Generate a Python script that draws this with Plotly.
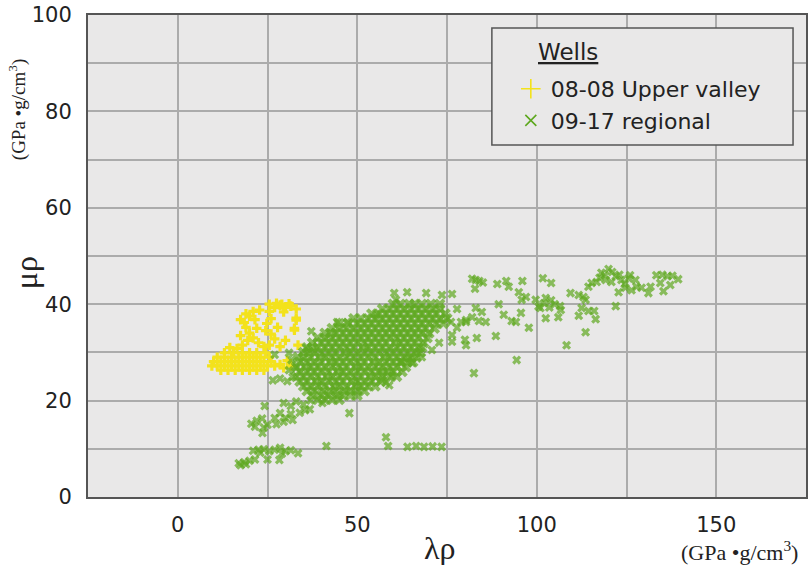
import plotly.graph_objects as go

# ---------------- data ----------------
# Well 08-08 Upper valley  (lambda-rho, mu-rho)
uv_band_y = [26.3, 27.2, 28.1, 29.0, 29.9]
uv_band_x = [
    [12, 14, 16, 18, 20, 22, 24],
    [9.5, 11, 13, 15, 17, 19, 21, 23, 25, 27],
    [10, 12, 14, 16, 18, 20, 22, 24, 26],
    [11, 13, 15, 17, 19, 21, 23, 25.5],
    [13, 15.5, 18, 20, 22, 24.5],
]
uv_x = [28.5, 30.5, 29.5, 31.5,
        14.5, 16.5, 18, 19.5, 21, 22.5, 24, 20, 22, 17.5, 25.5, 27, 28.5, 30, 26, 33.5,
        18.5, 20, 21.5, 22.8, 24.8, 26, 27.8, 25.5, 27, 28.5, 30, 31.5, 33, 29.5, 33, 32.5,
        24.5, 19, 17.5, 19, 21, 25.5, 27.5, 29, 31, 33, 32.5]
uv_y = [27.5, 28.3, 26.8, 27.2,
        31, 30.8, 31.5, 32.5, 33, 32, 31.2, 34, 35, 33.5, 31.5, 32.8, 31.2, 32.5, 33.8, 31.5,
        36.2, 37.5, 36.8, 38.8, 36, 37, 35.2, 38.5, 39.3, 39.8, 39.3, 39.6, 39, 38.4, 37.1, 35,
        34.5, 35.2, 36.8, 38, 38.5, 40, 40.2, 40, 40.1, 36.7, 34.6]

# Well 09-17 regional: dense core rows
core_y = [20.2, 21.1, 22.0, 23.0, 24.0, 25.0, 26.0, 27.0, 28.0, 29.0, 30.0,
          31.0, 32.0, 33.0, 34.0, 35.0, 36.0, 37.0, 38.0, 39.0, 40.0]
core_x = [
    [39, 41, 43, 45],
    [37.5, 40, 42, 44.5, 46, 48, 50],
    [36, 38, 40.5, 42.5, 44, 46.5, 48, 50, 52],
    [35, 37, 39, 41, 43.5, 45, 47, 49.5, 51, 53, 55],
    [34, 36, 38.5, 40, 42, 44, 46, 48.5, 50, 52, 54, 56.5],
    [33, 35, 37, 39, 41.5, 43, 45, 47, 49, 51, 53.5, 55, 57, 59, 61],
    [34, 36, 38, 40, 42, 44.5, 46, 48, 50, 52, 54, 56, 58.5, 60, 62.5],
    [33, 35.5, 37, 39, 41, 43, 45, 47, 49.5, 51, 53, 55, 57, 59, 61, 63.5],
    [34, 36, 38, 40, 42.5, 44, 46, 48, 50, 52, 54.5, 56, 58, 60, 62, 64, 65.5],
    [33.5, 35, 37, 39.5, 41, 43, 45, 47, 49, 51, 53, 55, 57.5, 59, 61, 63, 65, 66.5],
    [35, 36.5, 38, 40, 42, 44, 46.5, 48, 50, 52, 54, 56, 58, 60, 62, 64, 66, 67.5],
    [36, 37.5, 39, 41, 43, 45, 47, 49, 51.5, 53, 55, 57, 59, 61, 63, 65, 67, 68],
    [37.5, 40, 42, 44, 46, 48, 50, 52, 54, 56, 58, 60.5, 62, 64, 66, 68.5],
    [39, 41, 43, 45, 47, 49, 51, 53, 55, 57, 59, 61, 63, 65, 67, 69.5],
    [41, 42.5, 44, 46, 48, 50, 52, 54, 56, 58, 60, 62, 64, 66, 68, 70],
    [43, 45, 47, 49, 51, 53, 55, 57, 59, 61, 63, 65, 67, 69, 71.5],
    [45, 47.5, 50, 52, 54, 56, 58, 60, 62, 64, 66, 68, 70, 72, 74],
    [49, 51, 53, 55, 57, 59, 61, 63, 65, 67, 69, 71, 73, 75],
    [54, 56, 58, 60, 62, 64, 66, 68, 70, 72, 74.5],
    [57, 59, 61, 63, 65, 67, 69, 71, 73],
    [60, 62, 64.5, 66, 68, 70.5, 73],
]

# Well 09-17 regional: low tail (lower left)
tail_x = [17, 18.5, 20, 21.5, 17.5, 19, 25, 28.3,
          21, 22.5, 24, 25.5, 23, 27, 28.5, 30, 31.5, 33.5, 29,
          41.4, 23.6,
          20.5, 22, 23.5, 21.5, 25, 24,
          27, 28.5, 30, 31.5, 27.5, 29.5, 32,
          34, 35.5, 36.8,
          24.2, 29.5, 31.5, 33, 35, 37, 40.3, 47.8,
          58, 58.6, 64, 66.4, 68.6, 71, 73.5]
tail_y = [7.0, 7.2, 7.5, 7.8, 6.6, 6.8, 7.8, 7.7,
          9.6, 9.8, 9.9, 9.5, 9.2, 9.8, 10.2, 9.5, 9.7, 9.1, 9.0,
          10.6, 13.3,
          15.2, 15.8, 16.3, 14.6, 15, 14.4,
          16.4, 17.4, 16.4, 17.2, 15.1, 15.6, 16,
          17.5, 18, 18.2,
          18.9, 19.5, 18.9, 19.8, 19.2, 20, 19.5, 17.4,
          12.4, 10.6, 10.4, 10.6, 10.4, 10.5, 10.4]

# Well 09-17 regional: fringe around the core
fringe_x = [26.5, 28.5, 30.5, 32, 27, 31, 31.7, 33, 31, 35.8, 37.2,
            44.4, 47.2, 55.3, 60.3, 60.8,
            57, 59.7, 57, 58.9, 58, 62.2, 65.3, 64.4, 62.5,
            63.9, 69.2, 73.6, 76.4,
            77.8, 83, 84.7, 89.4, 90.8, 93, 94.2, 95.6, 97.8,
            77.8, 80.3, 82, 83.9, 85.8, 76.1, 78.9, 80.3,
            76.4, 76.4, 80, 80.3, 83.3, 88.6, 72.8, 70.8, 68,
            94.4, 82.5, 108.3, 113.6]
fringe_y = [24.2, 24.6, 24, 24.9, 29.5, 29.9, 28.4, 26.8, 26.3, 30.9, 34.4,
            36.3, 36.3, 37.8, 42.3, 40.9,
            26, 25.1, 24.3, 23.2, 23.7, 28, 27.8, 28.8, 28,
            42.5, 42.3, 41.9, 42.1,
            39, 39.2, 38.4, 40, 37.8, 36.5, 36.3, 38.2, 35.1,
            35.1, 36.3, 37.3, 36.5, 36.3, 36.3, 36.3, 36.7,
            33.6, 32.2, 32.6, 31.5, 33, 33.4, 32, 30.5, 29,
            28.4, 25.7, 31.5, 34.2]

# Well 09-17 regional: high lambda-rho branch (upper right)
branch_x = [82, 83, 84, 85, 89, 91.5, 96, 101.7, 104,
            82.8, 92.2, 95, 97, 95.8, 99.7, 102.5,
            100.5, 102, 103.5, 105, 106.5, 104, 101,
            106.7, 106, 102.5,
            109.4, 111.7, 113, 113.6, 112.5, 114.4, 116, 111.7, 116.4,
            122,
            120, 118, 121, 123, 119,
            115.3, 116.7, 119.2, 120.8, 123.6, 125.6, 127.5, 114.4, 117.5, 122, 124.5, 126,
            122.8, 124.7, 126.4, 127.8,
            129.2, 131.7, 131.1, 135.3, 137.2, 134.4,
            133.3, 135, 136.4, 137.8, 139.4]
branch_y = [45.3, 45, 44.8, 44.5, 44.2, 44.8, 44.8, 45.4, 44.4,
            43.2, 43.6, 42.5, 41.5, 40.9, 40.9, 41.3,
            39.5, 40.2, 39.3, 40, 39.6, 40.8, 39.2,
            38.8, 37.3, 37.1,
            42.3, 41.9, 41.5, 40.9, 39.2, 38.6, 38.6, 37.6, 36.9,
            39.6,
            47.3, 46.5, 46.7, 46.1, 46,
            44.4, 44.6, 45, 44.6, 45, 45.4, 45, 43.6, 45.5, 45.8, 44.2, 46.0,
            42.5, 43.4, 42.9, 43.6,
            43.4, 43.6, 42.3, 42.7, 44, 44.4,
            46, 46.1, 45.8, 45.9, 45.2]

x_ticks = [0, 50, 100, 150]
y_ticks = [0, 20, 40, 60, 80, 100]
names = ["08-08 Upper valley", "09-17 regional"]

# ---------------- assemble ----------------
uv_all_x, uv_all_y = [], []
for yy, row in zip(uv_band_y, uv_band_x):
    uv_all_x += row
    uv_all_y += [yy] * len(row)
uv_all_x += uv_x
uv_all_y += uv_y

rg_x, rg_y, rg_size = [], [], []
for yy, row in zip(core_y, core_x):
    rg_x += row
    rg_y += [yy] * len(row)
rg_size += [10] * len(rg_x)          # overlapping markers in the dense core
rg_x += tail_x + fringe_x + branch_x
rg_y += tail_y + fringe_y + branch_y
rg_size += [8] * (len(tail_x) + len(fringe_x) + len(branch_x))

YELLOW = "#f3e21c"
GREEN = "#5ea81f"
BG = "#e9e8e8"

fig = go.Figure()
fig.add_trace(go.Scatter(x=uv_all_x, y=uv_all_y, mode="markers", showlegend=False,
                         marker=dict(symbol="cross", size=8, color=YELLOW, line=dict(width=0))))
fig.add_trace(go.Scatter(x=rg_x, y=rg_y, mode="markers", showlegend=False,
                         marker=dict(symbol="x", size=rg_size, color=GREEN, line=dict(width=0))))
# legend-only entries
fig.add_trace(go.Scatter(x=[None], y=[None], mode="markers", name=names[0],
                         marker=dict(symbol="cross-thin", size=14, color=YELLOW,
                                     line=dict(width=1.6, color=YELLOW))))
fig.add_trace(go.Scatter(x=[None], y=[None], mode="markers", name=names[1],
                         marker=dict(symbol="x-thin", size=11, color=GREEN,
                                     line=dict(width=1.6, color=GREEN))))

L, R, T, B = 88, 2, 15, 68
W, H = 810, 565
pw, ph = W - L - R, H - T - B


def px(x):
    return (x - L) / pw


def py(y):
    return (H - B - y) / ph


fig.update_layout(
    width=W, height=H,
    margin=dict(l=L, r=R, t=T, b=B),
    paper_bgcolor="white", plot_bgcolor=BG,
    font=dict(family="DejaVu Sans", size=21, color="#222222"),
    legend=dict(x=px(512), y=py(68), xanchor="left", yanchor="top",
                bgcolor="rgba(0,0,0,0)", borderwidth=0,
                font=dict(family="DejaVu Sans", size=22, color="#222222"),
                tracegroupgap=0),
    xaxis=dict(range=[-25, 175], tickvals=x_ticks, showgrid=True,
               gridcolor="#ababab", gridwidth=2, zeroline=False,
               showline=True, mirror=True, linecolor="#555555", linewidth=2,
               ticks="", ticklabelstandoff=8,
               minor=dict(tick0=0, dtick=25, showgrid=True, gridcolor="#ababab", gridwidth=2)),
    yaxis=dict(range=[0, 100], tickvals=y_ticks, showgrid=True,
               gridcolor="#ababab", gridwidth=2, zeroline=False,
               showline=True, mirror=True, linecolor="#555555", linewidth=2,
               ticks="", ticklabelstandoff=10,
               minor=dict(tick0=0, dtick=10, showgrid=True, gridcolor="#ababab", gridwidth=2)),
    shapes=[dict(type="rect", xref="paper", yref="paper",
                 x0=px(493), x1=px(795), y0=py(145), y1=py(28),
                 line=dict(color="#555555", width=1.5), fillcolor=BG, layer="above")],
    annotations=[
        dict(text="<u>Wells</u>", xref="paper", yref="paper", x=px(537), y=py(52),
             xanchor="left", yanchor="middle", showarrow=False,
             font=dict(family="DejaVu Sans", size=23, color="#222222")),
        dict(text="\u03bc\u03c1", xref="paper", yref="paper", x=px(26), y=py(273),
             textangle=-90, xanchor="center", yanchor="middle", showarrow=False,
             font=dict(family="Liberation Serif", size=32, color="#222222")),
        dict(text="(GPa \u2022g/cm<sup>3</sup>)", xref="paper", yref="paper", x=px(18), y=py(110),
             textangle=-90, xanchor="center", yanchor="middle", showarrow=False,
             font=dict(family="Liberation Serif", size=19, color="#222222")),
        dict(text="\u03bb\u03c1", xref="paper", yref="paper", x=px(440), y=py(548),
             xanchor="center", yanchor="middle", showarrow=False,
             font=dict(family="Liberation Serif", size=32, color="#222222")),
        dict(text="(GPa \u2022g/cm<sup>3</sup>)", xref="paper", yref="paper", x=px(741), y=py(551),
             xanchor="center", yanchor="middle", showarrow=False,
             font=dict(family="Liberation Serif", size=22, color="#222222")),
    ],
)

fig.write_html("out.html")
